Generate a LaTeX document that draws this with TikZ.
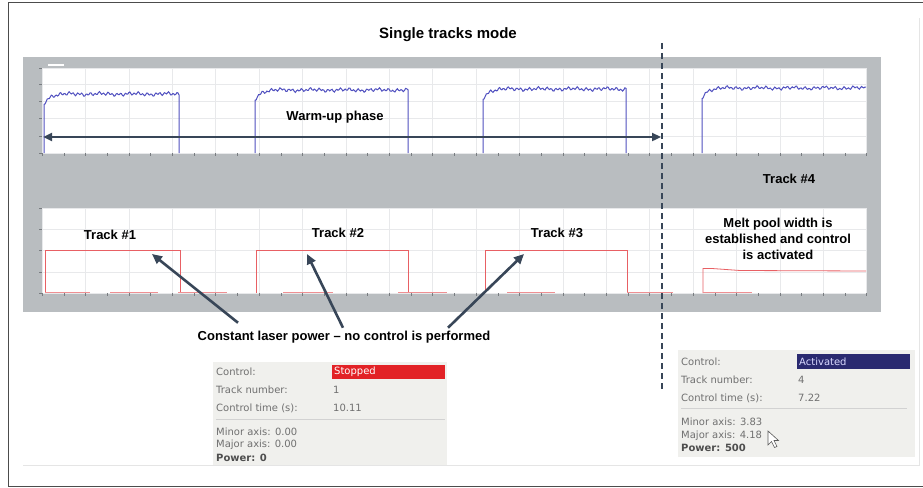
\documentclass[tikz,border=0pt]{standalone}
\usepackage{fontspec}
\setmainfont{Liberation Sans}
\newfontfamily\guifont{DejaVu Sans}
\usepackage{tikz}
\usetikzlibrary{arrows.meta,positioning,calc}

\definecolor{panelgray}{RGB}{185,189,192}
\definecolor{gridgray}{RGB}{232,233,235}
\definecolor{tickgray}{RGB}{120,124,128}
\definecolor{sigblue}{RGB}{80,80,192}
\definecolor{sigred}{RGB}{232,96,100}
\definecolor{slate}{RGB}{56,70,88}
\definecolor{guitext}{RGB}{112,112,112}
\definecolor{guibg}{RGB}{240,240,237}
\definecolor{stopred}{RGB}{226,34,38}
\definecolor{actblue}{RGB}{42,42,112}

\begin{document}
\begin{tikzpicture}[x=1pt, y=-1pt,
    lbl/.style={font=\bfseries\fontsize{13}{16}\selectfont, inner sep=1pt},
    pointer/.style={slate, line width=2.6pt, -{Triangle[length=10pt,width=9pt]}},
    guitxt/.style={font=\guifont\fontsize{10}{12}\selectfont, text=guitext, anchor=west, inner sep=0pt},
    plotbox/.style={fill=white, draw=gridgray}]
    \useasboundingbox (0,0) rectangle (923,487);

    % Frame
    \draw[gray!60!black, line width=1pt] (923,3) -- (8,3) -- (8,486) -- (923,486);
    \draw[gray!20] (23,465) -- (919,465) -- (919,18);

    % Screenshot background
    \fill[panelgray] (23,57) rectangle (881,312);
    \fill[white] (48,64) rectangle (64,66);
    \draw[plotbox] (42,68) rectangle (866,153);
    \draw[plotbox] (42,208) rectangle (866,293);

    % Grid
    \foreach \i in {1,...,18} {
        \draw[gridgray] (42+\i*43.4,68) -- (42+\i*43.4,153);
        \draw[gridgray] (42+\i*43.4,208) -- (42+\i*43.4,293);
    }
    \foreach \y in {84.2,101.4,118.6,135.8}
        \draw[gridgray] (42,\y) -- (866,\y);
    \foreach \y in {229.2,250.5,271.8}
        \draw[gridgray] (42,\y) -- (866,\y);

    % Ticks
    \foreach \i in {0,...,38} {
        \draw[tickgray] (42+\i*21.7,153) -- (42+\i*21.7,156);
        \draw[tickgray] (42+\i*21.7,293) -- (42+\i*21.7,296);
    }
    \foreach \y in {68,84.2,101.4,118.6,135.8,153}
        \draw[tickgray] (39,\y) -- (42,\y);
    \foreach \y in {208,229.2,250.5,271.8,293}
        \draw[tickgray] (39,\y) -- (42,\y);

    % Melt pool signal (blue)
    \foreach \xa/\xb/\lv in {44/179/94, 255/408/90, 483/626/89} {
        \pgfmathsetmacro\len{\xb-\xa}
        \draw[sigblue, line width=1pt] (\xa,153) -- plot[domain=0:\len, samples=130]
            ({\xa+\x}, {\lv + 10*exp(-\x/5) + 1.1*sin(83*\x) + 0.8*sin(37*\x+20) + 0.6*sin(11*\x)}) -- (\xb,153);
    }
    \draw[sigblue, line width=1pt] (702,153) -- plot[domain=0:164, samples=150]
        ({702+\x}, {88 + 10*exp(-\x/5) + 1.0*sin(83*\x) + 0.8*sin(37*\x+50) + 0.6*sin(11*\x)});

    % Laser power signal (red)
    \foreach \xa/\xb in {45/180, 256/408, 485/627}
        \draw[sigred, line width=0.8pt] (\xa,293) -- (\xa,250) -- (\xb,250) -- (\xb,293);
    \draw[sigred, line width=0.8pt] (703,293) -- (703,268.5) -- (712,268.5) -- (740,270.5) -- (866,271);
    \foreach \xa/\xb in {45/90, 110/158, 178/227, 283/333, 398/447, 507/555, 627/673, 703/752}
        \draw[sigred!70, line width=0.7pt] (\xa,292.5) -- (\xb,292.5);

    % Switch-over line
    \coordinate (cut top) at (662,43);
    \coordinate (cut bot) at (662,390);
    \draw[slate, line width=1.6pt, dash pattern=on 6pt off 4pt] (cut top) -- (cut bot);

    % Warm-up arrow
    \coordinate (warm a) at (43,137);
    \coordinate (warm b) at (661,137);
    \draw[slate, line width=2.4pt, {Triangle[length=9pt,width=8pt]}-{Triangle[length=9pt,width=8pt]}] (warm a) -- (warm b);

    % Labels
    \node[lbl, font=\bfseries\fontsize{15}{18}\selectfont] (title) at (448,35) {Single tracks mode};
    \node[lbl] (warm) at (335,117) {Warm-up phase};
    \node[lbl] (track4) at (789,179) {Track \#4};
    \node[lbl] (track1) at (110,235) {Track \#1};
    \node[lbl] (track2) at (338,233) {Track \#2};
    \node[lbl] (track3) at (557,233) {Track \#3};
    \node[lbl, align=center] (melt) at (778,239) {Melt pool width is\\established and control\\is activated};
    \node[lbl] (cst) at (344,337) {Constant laser power -- no control is performed};

    % Pointers to tracks
    \coordinate (tip1) at (152,254);
    \coordinate (tip2) at (307,254);
    \coordinate (tip3) at (524,254);
    \draw[pointer] ([xshift=-106pt,yshift=7pt]cst.north) -- (tip1);
    \draw[pointer] ([xshift=-1pt,yshift=2pt]cst.north) -- (tip2);
    \draw[pointer] ([xshift=104pt,yshift=2pt]cst.north) -- (tip3);

    % GUI panel, track 1
    \fill[guibg] (213,362) rectangle (447,465);
    \fill[stopred] (332,365) rectangle (445,379);
    \draw[gray!35] (216,419) -- (445,419);
    \node[guitxt] (ctlA) at (216,372) {Control:};
    \node[guitxt, text=white] (valA) at (334,372) {Stopped};
    \node[guitxt] (trkA) at (216,390) {Track number:};
    \node[guitxt] (numA) at (333,390) {1};
    \node[guitxt] (timA) at (216,408) {Control time (s):};
    \node[guitxt] (secA) at (333,408) {10.11};
    \node[guitxt] (minA) at (216,432) {Minor axis: 0.00};
    \node[guitxt] (majA) at (216,445) {Major axis: 0.00};
    \node[guitxt, text=guitext!70!black, font=\guifont\bfseries\fontsize{10}{12}\selectfont] (powA) at (216,458) {Power: 0};

    % GUI panel, track 4
    \fill[guibg] (678,350) rectangle (915,457);
    \fill[actblue] (797,354) rectangle (910,369);
    \draw[gray!35] (681,408) -- (907,408);
    \node[guitxt] (ctlB) at (681,362) {Control:};
    \node[guitxt, text=blue!15] (valB) at (799,362) {Activated};
    \node[guitxt] (trkB) at (681,380) {Track number:};
    \node[guitxt] (numB) at (798,380) {4};
    \node[guitxt] (timB) at (681,398) {Control time (s):};
    \node[guitxt] (secB) at (798,398) {7.22};
    \node[guitxt] (minB) at (681,422) {Minor axis: 3.83};
    \node[guitxt] (majB) at (681,436) {Major axis: 4.18};
    \node[guitxt, text=guitext!70!black, font=\guifont\bfseries\fontsize{10}{12}\selectfont] (powB) at (681,448) {Power: 500};

    % Mouse cursor
    \draw[gray!70!black, fill=white, line width=0.6pt] (768,431) -- (768,445) -- (771.5,441.5) -- (774.5,447.5) -- (777,446.5) -- (774,440.5) -- (778.5,440.5) -- cycle;
\end{tikzpicture}
\end{document}
